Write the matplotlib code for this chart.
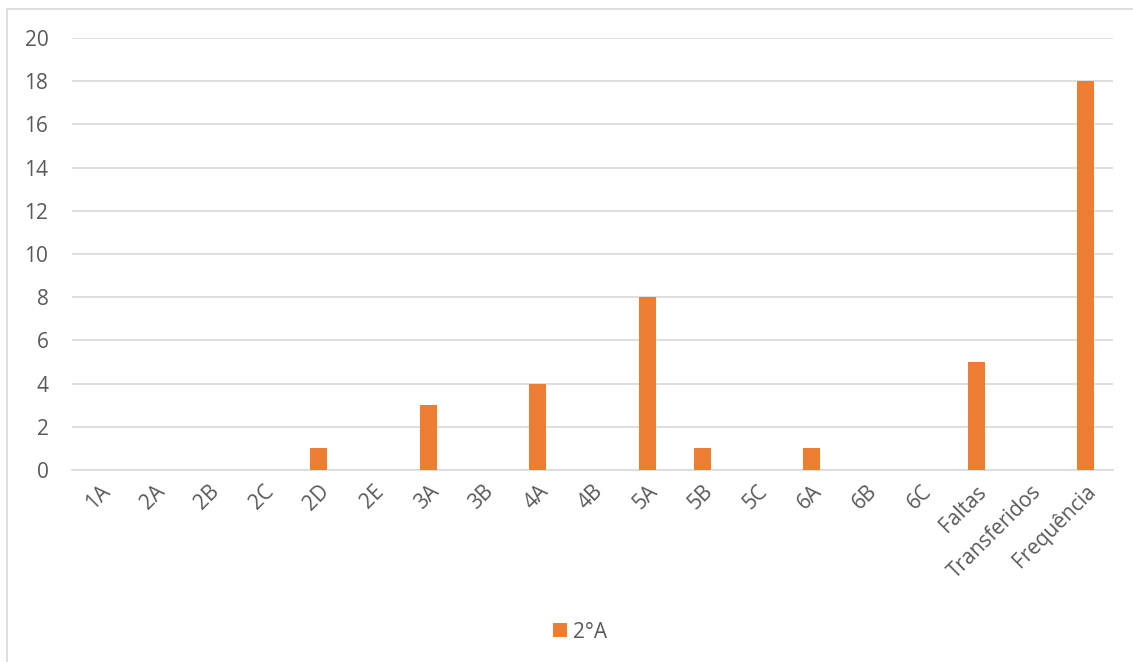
import matplotlib
matplotlib.use('Agg')
from matplotlib import pyplot as plt
from matplotlib.patches import Rectangle

categorias = ['1A', '2A', '2B', '2C', '2D', '2E', '3A', '3B', '4A', '4B',
              '5A', '5B', '5C', '6A', '6B', '6C', 'Faltas', 'Transferidos',
              'Frequência']
valores = [0, 0, 0, 0, 1, 0, 3, 0, 4, 0, 8, 1, 0, 1, 0, 0, 5, 0, 18]
serie = '2°A'

plt.rcParams['font.family'] = ['Open Sans', 'DejaVu Sans']
cinza = '#595959'
laranja = '#ED7D31'

W, H = 1133, 662
fig = plt.figure(figsize=(W / 100, H / 100), dpi=100)
ax = fig.add_axes([72 / W, (H - 470) / H, (1113 - 72) / W, (470 - 38) / H])

# borda do gráfico
fig.patches.append(Rectangle((7 / W, -0.05), 1.2, (H - 9) / H + 0.05,
                             transform=fig.transFigure, fill=False,
                             edgecolor='#D9D9D9', linewidth=1.2))

x = range(len(categorias))
ax.bar(x, valores, width=0.31, color=laranja, label=serie, zorder=3)

ax.set_xlim(-0.5, len(categorias) - 0.5)
ax.set_ylim(0, 20)
ax.set_yticks(range(0, 21, 2))
ax.grid(axis='y', color='#D9D9D9', linewidth=1.2, zorder=0)
for lado in ['top', 'right', 'left']:
    ax.spines[lado].set_visible(False)
ax.spines['bottom'].set_color('#D9D9D9')
ax.spines['bottom'].set_linewidth(1.2)

ax.set_xticks(list(x))
ax.set_xticklabels(categorias, rotation=45, ha='right', rotation_mode='anchor')
ax.tick_params(axis='both', length=0, labelsize=15, colors=cinza)
ax.tick_params(axis='x', pad=8)
ax.tick_params(axis='y', pad=17)

fig.legend(loc='center', bbox_to_anchor=(580 / W, (H - 632) / H), frameon=False,
           fontsize=15, labelcolor=cinza, handlelength=0.65, handleheight=0.65,
           handletextpad=0.3)

fig.savefig('out.png', dpi=100)
